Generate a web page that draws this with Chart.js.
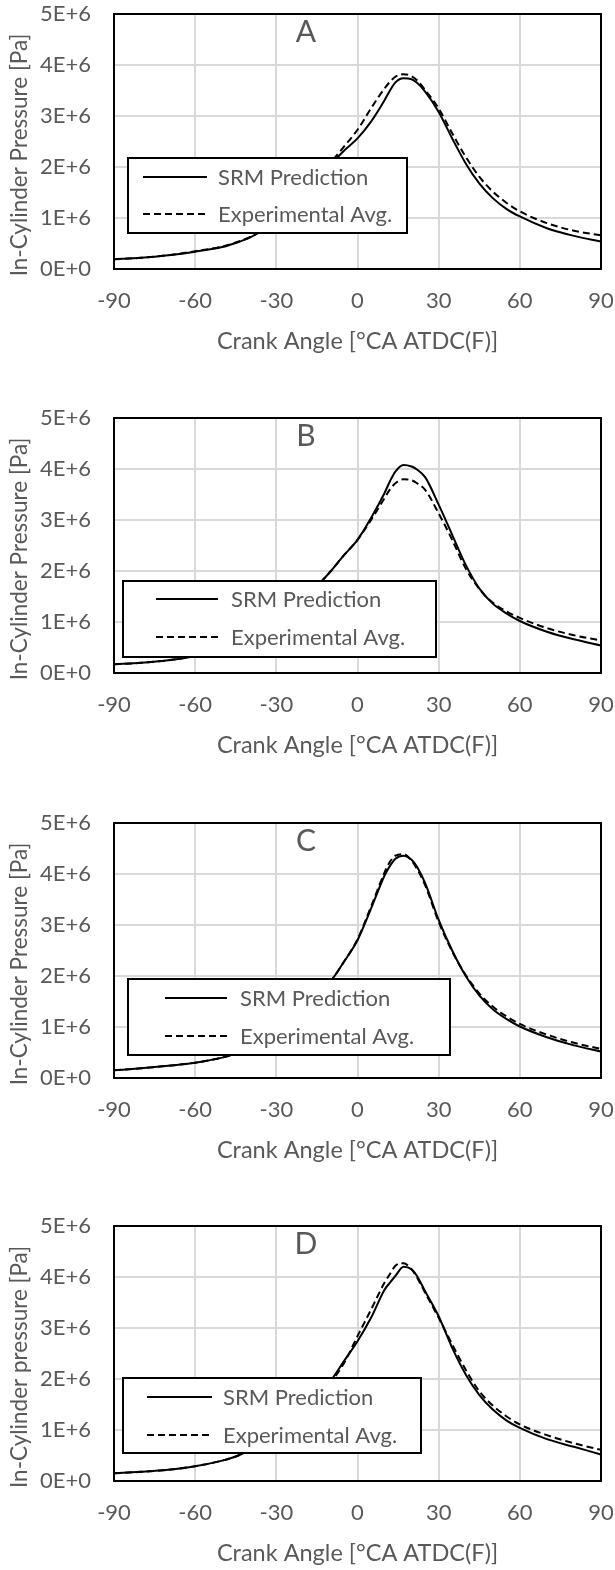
<!DOCTYPE html>
<html>
<head>
<meta charset="utf-8">
<script src="https://cdn.jsdelivr.net/npm/chart.js@4.4.1/dist/chart.umd.min.js"></script>
<style>
  html, body { margin: 0; padding: 0; background: #fff; overflow: hidden; }
  .panel { position: absolute; left: 0; width: 615px; height: 358px; }
</style>
</head>
<body>
<div class="panel" style="top:0px"><canvas id="panelA" width="615" height="358"></canvas></div>
<div class="panel" style="top:404px"><canvas id="panelB" width="615" height="358"></canvas></div>
<div class="panel" style="top:809px"><canvas id="panelC" width="615" height="358"></canvas></div>
<div class="panel" style="top:1212px"><canvas id="panelD" width="615" height="358"></canvas></div>
<script>
// crank angle samples shared by every curve [°CA ATDC(F)]
const crankAngle = [-90, -80, -70, -60, -50, -45, -40, -35, -30, -25, -20, -15, -10, -5,
  0, 5, 10, 12, 14, 17, 20, 22, 25, 30, 35, 40, 45, 50, 55, 60, 70, 80, 90];

const xTicks = [-90, -60, -30, 0, 30, 60, 90];
const yTicks = [0, 1e6, 2e6, 3e6, 4e6, 5e6];
const yTickLabels = ['0E+0', '1E+6', '2E+6', '3E+6', '4E+6', '5E+6'];

const seriesNames = ['SRM Prediction', 'Experimental Avg.'];

// in-cylinder pressure [Pa]
const srmA = [0.19e6, 0.22e6, 0.27e6, 0.34e6, 0.43e6, 0.51e6, 0.61e6, 0.76e6, 0.95e6, 1.18e6, 1.45e6, 1.74e6, 2.04e6, 2.32e6,
  2.56e6, 2.89e6, 3.31e6, 3.50e6, 3.66e6, 3.74e6, 3.72e6, 3.65e6, 3.48e6, 3.08e6, 2.56e6, 2.07e6, 1.68e6, 1.39e6, 1.18e6, 1.03e6, 0.80e6, 0.65e6, 0.54e6];
const expA = [0.19e6, 0.22e6, 0.27e6, 0.35e6, 0.44e6, 0.52e6, 0.62e6, 0.77e6, 0.97e6, 1.20e6, 1.48e6, 1.77e6, 2.08e6, 2.40e6,
  2.73e6, 3.15e6, 3.54e6, 3.67e6, 3.77e6, 3.82e6, 3.78e6, 3.70e6, 3.51e6, 3.15e6, 2.66e6, 2.20e6, 1.81e6, 1.52e6, 1.30e6, 1.13e6, 0.90e6, 0.75e6, 0.66e6];

const srmB = [0.17e6, 0.20e6, 0.25e6, 0.33e6, 0.43e6, 0.50e6, 0.60e6, 0.75e6, 0.94e6, 1.16e6, 1.42e6, 1.70e6, 1.99e6, 2.31e6,
  2.61e6, 3.04e6, 3.53e6, 3.76e6, 3.95e6, 4.08e6, 4.05e6, 3.99e6, 3.84e6, 3.30e6, 2.71e6, 2.12e6, 1.66e6, 1.36e6, 1.17e6, 1.02e6, 0.81e6, 0.66e6, 0.54e6];
const expB = [0.17e6, 0.20e6, 0.25e6, 0.33e6, 0.43e6, 0.50e6, 0.60e6, 0.75e6, 0.94e6, 1.16e6, 1.42e6, 1.70e6, 1.99e6, 2.31e6,
  2.61e6, 3.00e6, 3.43e6, 3.60e6, 3.72e6, 3.80e6, 3.78e6, 3.72e6, 3.59e6, 3.13e6, 2.61e6, 2.05e6, 1.65e6, 1.38e6, 1.21e6, 1.08e6, 0.88e6, 0.74e6, 0.64e6];

const srmC = [0.15e6, 0.19e6, 0.24e6, 0.30e6, 0.40e6, 0.48e6, 0.58e6, 0.72e6, 0.90e6, 1.12e6, 1.38e6, 1.64e6, 1.89e6, 2.28e6,
  2.70e6, 3.32e6, 3.97e6, 4.16e6, 4.30e6, 4.36e6, 4.28e6, 4.14e6, 3.82e6, 3.10e6, 2.50e6, 2.00e6, 1.62e6, 1.35e6, 1.16e6, 1.01e6, 0.80e6, 0.64e6, 0.52e6];
const expC = [0.15e6, 0.19e6, 0.24e6, 0.30e6, 0.40e6, 0.48e6, 0.58e6, 0.72e6, 0.90e6, 1.12e6, 1.38e6, 1.64e6, 1.89e6, 2.28e6,
  2.72e6, 3.36e6, 4.03e6, 4.24e6, 4.36e6, 4.39e6, 4.26e6, 4.10e6, 3.78e6, 3.06e6, 2.48e6, 2.02e6, 1.66e6, 1.40e6, 1.21e6, 1.06e6, 0.85e6, 0.69e6, 0.57e6];

const srmD = [0.15e6, 0.18e6, 0.22e6, 0.29e6, 0.40e6, 0.48e6, 0.60e6, 0.75e6, 0.94e6, 1.16e6, 1.39e6, 1.66e6, 1.96e6, 2.35e6,
  2.74e6, 3.20e6, 3.75e6, 3.89e6, 4.02e6, 4.20e6, 4.15e6, 4.02e6, 3.72e6, 3.23e6, 2.61e6, 2.09e6, 1.69e6, 1.40e6, 1.19e6, 1.04e6, 0.82e6, 0.67e6, 0.52e6];
const expD = [0.15e6, 0.18e6, 0.22e6, 0.29e6, 0.40e6, 0.48e6, 0.60e6, 0.75e6, 0.94e6, 1.16e6, 1.39e6, 1.66e6, 1.93e6, 2.31e6,
  2.84e6, 3.36e6, 3.89e6, 4.06e6, 4.22e6, 4.27e6, 4.15e6, 3.99e6, 3.69e6, 3.20e6, 2.68e6, 2.18e6, 1.76e6, 1.48e6, 1.27e6, 1.11e6, 0.90e6, 0.74e6, 0.61e6];

const TEXT = '#595959';
const FONT = 'Lato';

// letter, y title and legend box placement for each panel
const panels = [
  { id: 'panelA', letter: 'A', srm: srmA, exp: expA, yTitle: 'In-Cylinder Pressure [Pa]',
    legend: { x: 128, y: 158, w: 279, h: 75, rows: [177, 214], s0: 143, s1: 207, tx: 218 } },
  { id: 'panelB', letter: 'B', srm: srmB, exp: expB, yTitle: 'In-Cylinder Pressure [Pa]',
    legend: { x: 123, y: 177, w: 313, h: 76, rows: [195, 233], s0: 156, s1: 218, tx: 231 } },
  { id: 'panelC', letter: 'C', srm: srmC, exp: expC, yTitle: 'In-Cylinder Pressure [Pa]',
    legend: { x: 128, y: 170, w: 322, h: 76, rows: [189, 227], s0: 165, s1: 227, tx: 240 } },
  { id: 'panelD', letter: 'D', srm: srmD, exp: expD, yTitle: 'In-Cylinder pressure [Pa]',
    legend: { x: 123, y: 166, w: 298, h: 75, rows: [185, 223], s0: 147, s1: 212, tx: 223 } }
];

// keep the plot box fixed: no extra room reserved for edge labels
function fixScale(s, size) {
  if (s.isHorizontal()) s.height = size; else s.width = size;
  s.paddingTop = 0;
  s.paddingBottom = 0;
  s.paddingLeft = 0;
  s.paddingRight = 0;
}

// frame, panel letter, vertical axis title and the boxed legend over the curves
const panelDecor = {
  id: 'panelDecor',
  afterDatasetsDraw(chart, args, opts) {
    const { ctx, chartArea: a } = chart;
    ctx.save();
    ctx.strokeStyle = '#000';
    ctx.lineWidth = 2;
    ctx.strokeRect(a.left, a.top, a.right - a.left, a.bottom - a.top);

    ctx.fillStyle = TEXT;
    ctx.textAlign = 'center';
    ctx.textBaseline = 'middle';
    ctx.font = '30px ' + FONT;
    ctx.fillText(opts.letter, 306, 32);

    ctx.save();
    ctx.translate(20, 155);
    ctx.rotate(-Math.PI / 2);
    ctx.font = '22.5px ' + FONT;
    ctx.fillText(opts.yTitle, 0, 0);
    ctx.restore();

    const b = opts.legend;
    ctx.fillStyle = '#fff';
    ctx.fillRect(b.x, b.y, b.w, b.h);
    ctx.strokeRect(b.x, b.y, b.w, b.h);
    ctx.textAlign = 'left';
    ctx.font = '22px ' + FONT;
    chart.data.datasets.forEach((ds, i) => {
      const y = b.rows[i];
      ctx.beginPath();
      ctx.setLineDash(ds.borderDash || []);
      ctx.lineWidth = 2;
      ctx.strokeStyle = ds.borderColor;
      ctx.moveTo(b.s0, y);
      ctx.lineTo(b.s1, y);
      ctx.stroke();
      ctx.setLineDash([]);
      ctx.fillStyle = TEXT;
      ctx.fillText(ds.label, b.tx, y + 1);
    });
    ctx.restore();
  }
};

panels.forEach(p => {
  const ctx = document.getElementById(p.id).getContext('2d');
  new Chart(ctx, {
    type: 'line',
    data: {
      datasets: [
        {
          label: seriesNames[0],
          data: crankAngle.map((x, i) => ({ x: x, y: p.srm[i] })),
          borderColor: '#000',
          borderWidth: 2,
          pointRadius: 0,
          cubicInterpolationMode: 'monotone'
        },
        {
          label: seriesNames[1],
          data: crankAngle.map((x, i) => ({ x: x, y: p.exp[i] })),
          borderColor: '#000',
          borderWidth: 2,
          borderDash: [7, 4],
          pointRadius: 0,
          cubicInterpolationMode: 'monotone'
        }
      ]
    },
    options: {
      responsive: false,
      animation: false,
      layout: { padding: { left: 0, right: 14, top: 14, bottom: 0 } },
      plugins: {
        legend: { display: false },
        tooltip: { enabled: false },
        panelDecor: { letter: p.letter, yTitle: p.yTitle, legend: p.legend }
      },
      scales: {
        x: {
          type: 'linear',
          min: -90,
          max: 90,
          afterFit: s => fixScale(s, 89),
          afterBuildTicks: s => { s.ticks = xTicks.map(v => ({ value: v })); },
          grid: { color: '#d9d9d9', lineWidth: 2, drawTicks: false },
          border: { display: false },
          ticks: { color: TEXT, font: { family: FONT, size: 22 }, padding: 19, maxRotation: 0 },
          title: {
            display: true,
            text: 'Crank Angle [°CA ATDC(F)]',
            color: TEXT,
            font: { family: FONT, size: 23.5 },
            padding: { top: 0, bottom: 2 }
          }
        },
        y: {
          min: 0,
          max: 5e6,
          afterFit: s => fixScale(s, 114),
          afterBuildTicks: s => { s.ticks = yTicks.map(v => ({ value: v })); },
          grid: { color: '#d9d9d9', lineWidth: 2, drawTicks: false },
          border: { display: false },
          ticks: {
            color: TEXT,
            font: { family: FONT, size: 22 },
            padding: 23,
            callback: v => yTickLabels[yTicks.indexOf(v)]
          }
        }
      }
    },
    plugins: [panelDecor]
  });
});
</script>
</body>
</html>
